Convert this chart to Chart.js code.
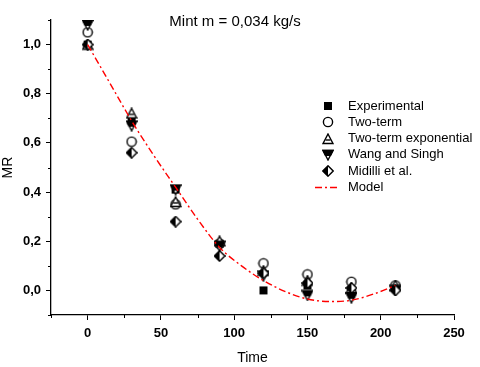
<!DOCTYPE html>
<html>
<head>
<meta charset="utf-8">
<script src="https://cdn.jsdelivr.net/npm/chart.js@4.4.0/dist/chart.umd.min.js"></script>
<style>
  html, body { margin: 0; padding: 0; background: #fff; }
  #wrap { width: 480px; height: 367px; }
</style>
</head>
<body>
<div id="wrap"><canvas id="mr-chart" width="480" height="367"></canvas></div>
<script>
const times = [0, 30, 60, 90, 120, 150, 180, 210];
const experimental = [1.0, 0.69, 0.41, 0.19, 0.0, 0.02, 0.0, 0.01];
const twoTerm = [1.05, 0.605, 0.35, 0.19, 0.11, 0.065, 0.035, 0.02];
const twoTermExp = [1.0, 0.72, 0.36, 0.20, 0.08, 0.04, 0.01, 0.02];
const wangSingh = [1.08, 0.67, 0.41, 0.18, 0.06, -0.02, -0.03, 0.0];
const midilli = [1.0, 0.56, 0.28, 0.14, 0.07, 0.03, 0.01, 0.0];

const modelTime = [0, 15, 30, 45, 60, 75, 90, 105, 120, 135, 150, 165, 180, 195, 210];
const modelMR = [1.0, 0.845, 0.69, 0.55, 0.42, 0.29, 0.175, 0.10, 0.04, -0.005, -0.035, -0.045, -0.04, -0.015, 0.02];

const xTicks = [0, 50, 100, 150, 200, 250];
const yTicks = [0, 0.2, 0.4, 0.6, 0.8, 1.0];

function marker(draw) {
  const c = document.createElement('canvas');
  c.width = 12; c.height = 12;
  const g = c.getContext('2d');
  g.lineWidth = 1.4;
  g.strokeStyle = '#000';
  g.fillStyle = '#000';
  draw(g);
  return c;
}

const squareMark = marker(g => { g.fillRect(2, 2, 8, 8); });
const circleMark = marker(g => {
  g.beginPath(); g.arc(6, 6, 4.6, 0, Math.PI * 2);
  g.fillStyle = '#fff'; g.fill(); g.stroke();
});
const triUpMark = marker(g => {
  g.beginPath(); g.moveTo(6, 1); g.lineTo(11, 10.5); g.lineTo(1, 10.5); g.closePath();
  g.fillStyle = '#fff'; g.fill(); g.stroke();
  g.beginPath(); g.moveTo(3.5, 7); g.lineTo(8.5, 7); g.stroke();
});
const triDownMark = marker(g => {
  g.beginPath(); g.moveTo(1, 1.5); g.lineTo(11, 1.5); g.lineTo(6, 11); g.closePath();
  g.fillStyle = '#fff'; g.fill(); g.stroke();
  g.beginPath(); g.moveTo(1, 1.5); g.lineTo(11, 1.5); g.lineTo(8.6, 6.2); g.lineTo(3.4, 6.2); g.closePath();
  g.fillStyle = '#000'; g.fill(); g.stroke();
});
const diamondMark = marker(g => {
  g.beginPath(); g.moveTo(6, 0.8); g.lineTo(11.2, 6); g.lineTo(6, 11.2); g.lineTo(0.8, 6); g.closePath();
  g.fillStyle = '#fff'; g.fill(); g.stroke();
  g.beginPath(); g.moveTo(6, 0.8); g.lineTo(6, 11.2); g.lineTo(0.8, 6); g.closePath();
  g.fillStyle = '#000'; g.fill();
});

const pts = (xs, ys) => xs.map((x, i) => ({ x: x, y: ys[i] }));

function series(label, values, style, order) {
  return { label, data: pts(times, values), pointStyle: style, pointRadius: 6, showLine: false, order };
}

// minor ticks, legend box and the in-plot title
const extras = {
  id: 'extras',
  afterDraw(chart) {
    const ctx = chart.ctx;
    const xs = chart.scales.x, ys = chart.scales.y;
    ctx.save();
    ctx.strokeStyle = '#000';
    ctx.lineWidth = 1;
    ctx.beginPath();
    for (let v = -25; v <= 250; v += 50) {
      const px = Math.round(xs.getPixelForValue(v)) + 0.5;
      ctx.moveTo(px, xs.top); ctx.lineTo(px, xs.top + 3);
    }
    for (let k = -1; k <= 11; k += 2) {
      const py = Math.round(ys.getPixelForValue(k / 10)) + 0.5;
      ctx.moveTo(ys.right, py); ctx.lineTo(ys.right - 3, py);
    }
    ctx.stroke();

    ctx.fillStyle = '#000';
    ctx.font = '15px "Liberation Sans", Arial, sans-serif';
    ctx.textAlign = 'center';
    ctx.textBaseline = 'middle';
    ctx.fillText('Mint m = 0,034 kg/s', 235, 22);

    ctx.font = '13px "Liberation Sans", Arial, sans-serif';
    ctx.textAlign = 'left';
    chart.data.datasets.forEach((ds, i) => {
      const y = 106 + i * 16.3;
      if (ds.showLine) {
        ctx.strokeStyle = ds.borderColor;
        ctx.lineWidth = 1.3;
        ctx.setLineDash(ds.borderDash);
        ctx.beginPath(); ctx.moveTo(315, y); ctx.lineTo(340, y); ctx.stroke();
        ctx.setLineDash([]);
      } else {
        ctx.drawImage(ds.pointStyle, 328 - 6, Math.round(y) - 6);
      }
      ctx.fillStyle = '#000';
      ctx.fillText(ds.label, 348, y);
    });
    ctx.restore();
  }
};

new Chart(document.getElementById('mr-chart'), {
  type: 'scatter',
  data: {
    datasets: [
      series('Experimental', experimental, squareMark, 6),
      series('Two-term', twoTerm, circleMark, 5),
      series('Two-term exponential', twoTermExp, triUpMark, 4),
      series('Wang and Singh', wangSingh, triDownMark, 3),
      series('Midilli et al.', midilli, diamondMark, 2),
      {
        label: 'Model',
        data: pts(modelTime, modelMR),
        showLine: true,
        borderColor: '#ff0000',
        borderWidth: 1.4,
        borderDash: [7, 3, 2, 3],
        pointRadius: 0,
        cubicInterpolationMode: 'monotone',
        order: 1
      }
    ]
  },
  options: {
    responsive: false,
    animation: false,
    layout: { padding: { top: 20, right: 26, left: 0, bottom: 0 } },
    plugins: { legend: { display: false }, tooltip: { enabled: false } },
    scales: {
      x: {
        type: 'linear',
        min: -25, max: 250,
        afterFit: s => { s.height = 52; },
        afterBuildTicks: s => { s.ticks = xTicks.map(v => ({ value: v })); },
        grid: { display: true, drawOnChartArea: false, drawTicks: true, tickLength: 5, color: '#000' },
        border: { display: true, color: '#000', width: 1.3 },
        ticks: { color: '#000', padding: 6, font: { family: '"Liberation Sans", Arial', size: 13, weight: 'bold' } },
        title: { display: true, text: 'Time', color: '#000', padding: { top: 5, bottom: 0 }, font: { family: '"Liberation Sans", Arial', size: 14 } }
      },
      y: {
        type: 'linear',
        min: -0.1, max: 1.1,
        afterFit: s => { s.width = 51; },
        afterBuildTicks: s => { s.ticks = yTicks.map(v => ({ value: v })); },
        grid: { display: true, drawOnChartArea: false, drawTicks: true, tickLength: 5, color: '#000' },
        border: { display: true, color: '#000', width: 1.3 },
        ticks: {
          color: '#000', padding: 5,
          font: { family: '"Liberation Sans", Arial', size: 13, weight: 'bold' },
          callback: v => v.toFixed(1).replace('.', ',')
        },
        title: { display: true, text: 'MR', color: '#000', padding: { top: 0, bottom: 0 }, font: { family: '"Liberation Sans", Arial', size: 14 } }
      }
    }
  },
  plugins: [extras]
});
</script>
</body>
</html>
